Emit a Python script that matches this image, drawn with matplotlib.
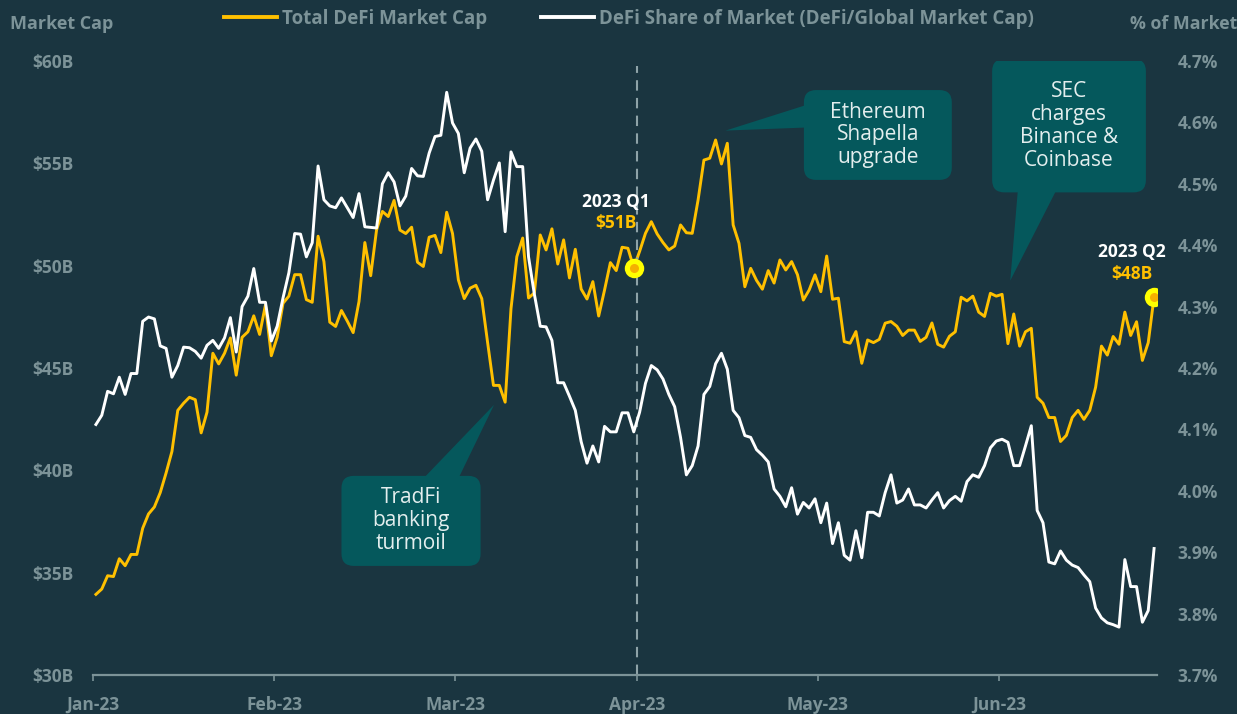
import matplotlib
matplotlib.use('Agg')
import matplotlib.pyplot as plt
from matplotlib.patches import FancyBboxPatch, Polygon
import numpy as np

# daily values, Jan 1 - Jun 30 2023
defi_cap = [33.94, 34.20, 34.85, 34.81, 35.68, 35.34, 35.89, 35.89, 37.17, 37.87,
            38.21, 38.91, 39.87, 40.92, 42.93, 43.28, 43.57, 43.45, 41.83, 42.84,
            45.72, 45.20, 45.72, 46.47, 44.65, 46.50, 46.77, 47.55, 46.64, 48.08,
            45.60, 46.50, 48.16, 48.51, 49.56, 49.56, 48.34, 48.21, 51.44, 50.20,
            47.24, 47.03, 47.81, 47.29, 46.73, 48.25, 51.13, 49.51, 51.74, 52.65,
            52.40, 53.19, 51.74, 51.57, 51.88, 50.17, 49.96, 51.39, 51.48, 50.64,
            52.61, 51.57, 49.30, 48.39, 48.90, 49.04, 48.39, 46.24, 44.15, 44.15,
            43.33, 47.90, 50.44, 51.35, 48.42, 48.67, 51.50, 50.77, 51.80, 50.08,
            51.26, 49.40, 50.80, 48.86, 48.37, 49.22, 47.54, 48.81, 50.15, 49.76,
            50.90, 50.85, 49.90, 50.70, 51.58, 52.15, 51.55, 51.13, 50.77, 50.96,
            51.99, 51.61, 51.58, 53.21, 55.16, 55.25, 56.14, 54.97, 55.98, 51.99,
            51.09, 48.97, 49.87, 49.28, 48.85, 49.76, 49.15, 50.28, 49.79, 50.20,
            49.56, 48.32, 48.81, 49.55, 48.73, 50.47, 48.36, 48.41, 46.29, 46.21,
            46.78, 45.23, 46.37, 46.24, 46.40, 47.19, 47.27, 47.04, 46.59, 46.85,
            46.85, 46.30, 46.50, 47.20, 46.16, 46.02, 46.55, 46.77, 48.46, 48.28,
            48.51, 47.73, 47.52, 48.65, 48.51, 48.60, 46.19, 47.64, 46.07, 46.77,
            46.94, 43.57, 43.28, 42.58, 42.58, 41.41, 41.71, 42.58, 42.93, 42.49,
            42.93, 44.06, 46.07, 45.63, 46.54, 46.16, 47.73, 46.59, 47.26, 45.37,
            46.24, 48.48]

defi_share = [4.108, 4.123, 4.162, 4.158, 4.185, 4.157, 4.191, 4.191, 4.276, 4.283,
              4.280, 4.236, 4.232, 4.185, 4.204, 4.234, 4.233, 4.227, 4.216, 4.237,
              4.245, 4.232, 4.249, 4.282, 4.226, 4.300, 4.317, 4.362, 4.307, 4.307,
              4.244, 4.268, 4.314, 4.355, 4.419, 4.418, 4.381, 4.404, 4.529, 4.474,
              4.464, 4.461, 4.477, 4.461, 4.445, 4.484, 4.430, 4.429, 4.428, 4.500,
              4.518, 4.503, 4.464, 4.480, 4.525, 4.513, 4.512, 4.550, 4.577, 4.579,
              4.649, 4.599, 4.582, 4.518, 4.558, 4.573, 4.553, 4.474, 4.506, 4.534,
              4.422, 4.552, 4.528, 4.528, 4.381, 4.320, 4.268, 4.267, 4.245, 4.176,
              4.176, 4.154, 4.131, 4.080, 4.045, 4.073, 4.047, 4.105, 4.096, 4.096,
              4.127, 4.127, 4.096, 4.128, 4.175, 4.204, 4.197, 4.182, 4.157, 4.137,
              4.087, 4.026, 4.041, 4.073, 4.157, 4.170, 4.207, 4.224, 4.198, 4.131,
              4.119, 4.090, 4.087, 4.067, 4.058, 4.047, 4.003, 3.991, 3.974, 4.005,
              3.962, 3.981, 3.972, 3.987, 3.948, 3.980, 3.914, 3.948, 3.895, 3.887,
              3.935, 3.891, 3.965, 3.965, 3.959, 3.997, 4.026, 3.980, 3.985, 4.003,
              3.977, 3.977, 3.972, 3.985, 3.997, 3.972, 3.984, 3.991, 3.983, 4.015,
              4.026, 4.022, 4.041, 4.070, 4.081, 4.084, 4.079, 4.041, 4.041, 4.073,
              4.106, 3.968, 3.948, 3.884, 3.881, 3.902, 3.887, 3.879, 3.875, 3.863,
              3.852, 3.809, 3.793, 3.785, 3.782, 3.778, 3.888, 3.844, 3.844, 3.786,
              3.805, 3.906]

months = ['Jan-23', 'Feb-23', 'Mar-23', 'Apr-23', 'May-23', 'Jun-23']
quarter_idx = [92, 181]
quarter_names = ['2023 Q1', '2023 Q2']
quarter_caps = ['$51B', '$48B']

BG = '#1a3540'
GOLD = '#ffc000'
GREY = '#7c9398'
BOX = '#05585c'
BOXTXT = '#e3eeee'

plt.rcParams['font.family'] = ['Open Sans', 'DejaVu Sans']

fig = plt.figure(figsize=(12.37, 7.14), dpi=100, facecolor=BG)
ax = fig.add_axes([93 / 1237, 1 - 675 / 714, 1064 / 1237, 614 / 714])
ax.set_facecolor(BG)
ax2 = ax.twinx()

x = np.arange(len(defi_cap))
l1, = ax.plot(x, defi_cap, color=GOLD, lw=2.1, label='Total DeFi Market Cap')
l2, = ax2.plot(x, defi_share, color='white', lw=2.1,
               label='DeFi Share of Market (DeFi/Global Market Cap)')

ax.set_xlim(-0.5, len(defi_cap) - 0.5)
ax.set_ylim(30, 60)
ax2.set_ylim(3.7, 4.7)

yt = np.arange(30, 61, 5)
ax.set_yticks(yt)
ax.set_yticklabels([f'${v}B' for v in yt])
yt2 = np.arange(3.7, 4.71, 0.1)
ax2.set_yticks(yt2)
ax2.set_yticklabels([f'{v:.1f}%' for v in yt2])
xt = np.arange(len(months)) * 31 - 0.5
ax.set_xticks(xt)
ax.set_xticklabels(months)

ax.tick_params(axis='y', length=0, pad=14, labelsize=12.5, labelcolor=GREY)
ax2.tick_params(axis='y', length=0, pad=15, labelsize=12.5, labelcolor=GREY)
ax.tick_params(axis='x', length=4, width=1.2, color=GREY, pad=11,
               labelsize=12.5, labelcolor=GREY)
for t in ax.get_yticklabels() + ax2.get_yticklabels() + ax.get_xticklabels():
    t.set_fontweight('bold')

for s in ['top', 'left', 'right']:
    ax.spines[s].set_visible(False)
for s in ax2.spines.values():
    s.set_visible(False)
ax.spines['bottom'].set_color(GREY)
ax.spines['bottom'].set_linewidth(1.6)

# quarter divider
ax.axvline(xt[3], ymax=0.992, color='#8ea3a8', lw=1.5, ls=(0, (5, 3.5)))

# quarter-end markers and labels
for k, (i, name, cap) in enumerate(zip(quarter_idx, quarter_names, quarter_caps)):
    ax2.plot(i, defi_cap[i], 'o', ms=14, color='#ffff00', mec='none',
             transform=ax.transData, zorder=5)
    ax2.plot(i, defi_cap[i], 'o', ms=6.5, color='#f5b000', mec='none',
             transform=ax.transData, zorder=6)
    dx = -13 if k == 0 else -16
    dy = 47.5 if k == 0 else 32
    ax.annotate(name, (i, defi_cap[i]), xytext=(dx, dy),
                textcoords='offset points', ha='center', va='center',
                color='white', fontsize=12.5, fontweight='bold')
    ax.annotate(cap, (i, defi_cap[i]), xytext=(dx, dy - 15.5),
                textcoords='offset points', ha='center', va='center',
                color=GOLD, fontsize=12.5, fontweight='bold')


def callout(x0, x1, y0, y1, tri, text):
    asp = (1064 / 182) / (614 / 30)
    box = FancyBboxPatch((x0, y0), x1 - x0, y1 - y0,
                         boxstyle='round,pad=0,rounding_size=2.1',
                         mutation_aspect=asp, fc=BOX, ec='none',
                         transform=ax.transData, zorder=7)
    ax2.add_patch(box)
    ax2.add_patch(Polygon(tri, closed=True, fc=BOX, ec='none',
                          transform=ax.transData, zorder=7))
    ax2.text((x0 + x1) / 2, (y0 + y1) / 2, text, ha='center', va='center',
             color=BOXTXT, fontsize=15, linespacing=1.12,
             transform=ax.transData, zorder=8)


callout(121.1, 146.4, 54.19, 58.58,
        [(107.7, 56.6), (121.5, 57.85), (121.5, 56.75)],
        'Ethereum\nShapella\nupgrade')
callout(153.3, 179.6, 53.58, 60.1,
        [(156.4, 49.27), (157.7, 53.7), (164.3, 53.7)],
        'SEC\ncharges\nBinance &\nCoinbase')
callout(42.0, 65.8, 35.33, 39.73,
        [(68.1, 43.2), (56.0, 39.6), (62.0, 39.6)],
        'TradFi\nbanking\nturmoil')

fig.text(10 / 1237, 1 - 24 / 714, 'Market Cap', color=GREY, fontsize=13,
         fontweight='bold', ha='left', va='center')
fig.text(1130 / 1237, 1 - 24 / 714, '% of Market', color=GREY, fontsize=12.8,
         fontweight='bold', ha='left', va='center')

leg = fig.legend(handles=[l1, l2], loc='center', bbox_to_anchor=(629 / 1237, 1 - 19 / 714),
                 ncol=2, frameon=False, handlelength=2.8, handletextpad=0.28,
                 columnspacing=2.9, prop={'weight': 'bold', 'size': 13.5})
for t in leg.get_texts():
    t.set_color(GREY)
for h in leg.get_lines():
    h.set_linewidth(2.8)

fig.savefig('out.png', dpi=100, facecolor=BG)
